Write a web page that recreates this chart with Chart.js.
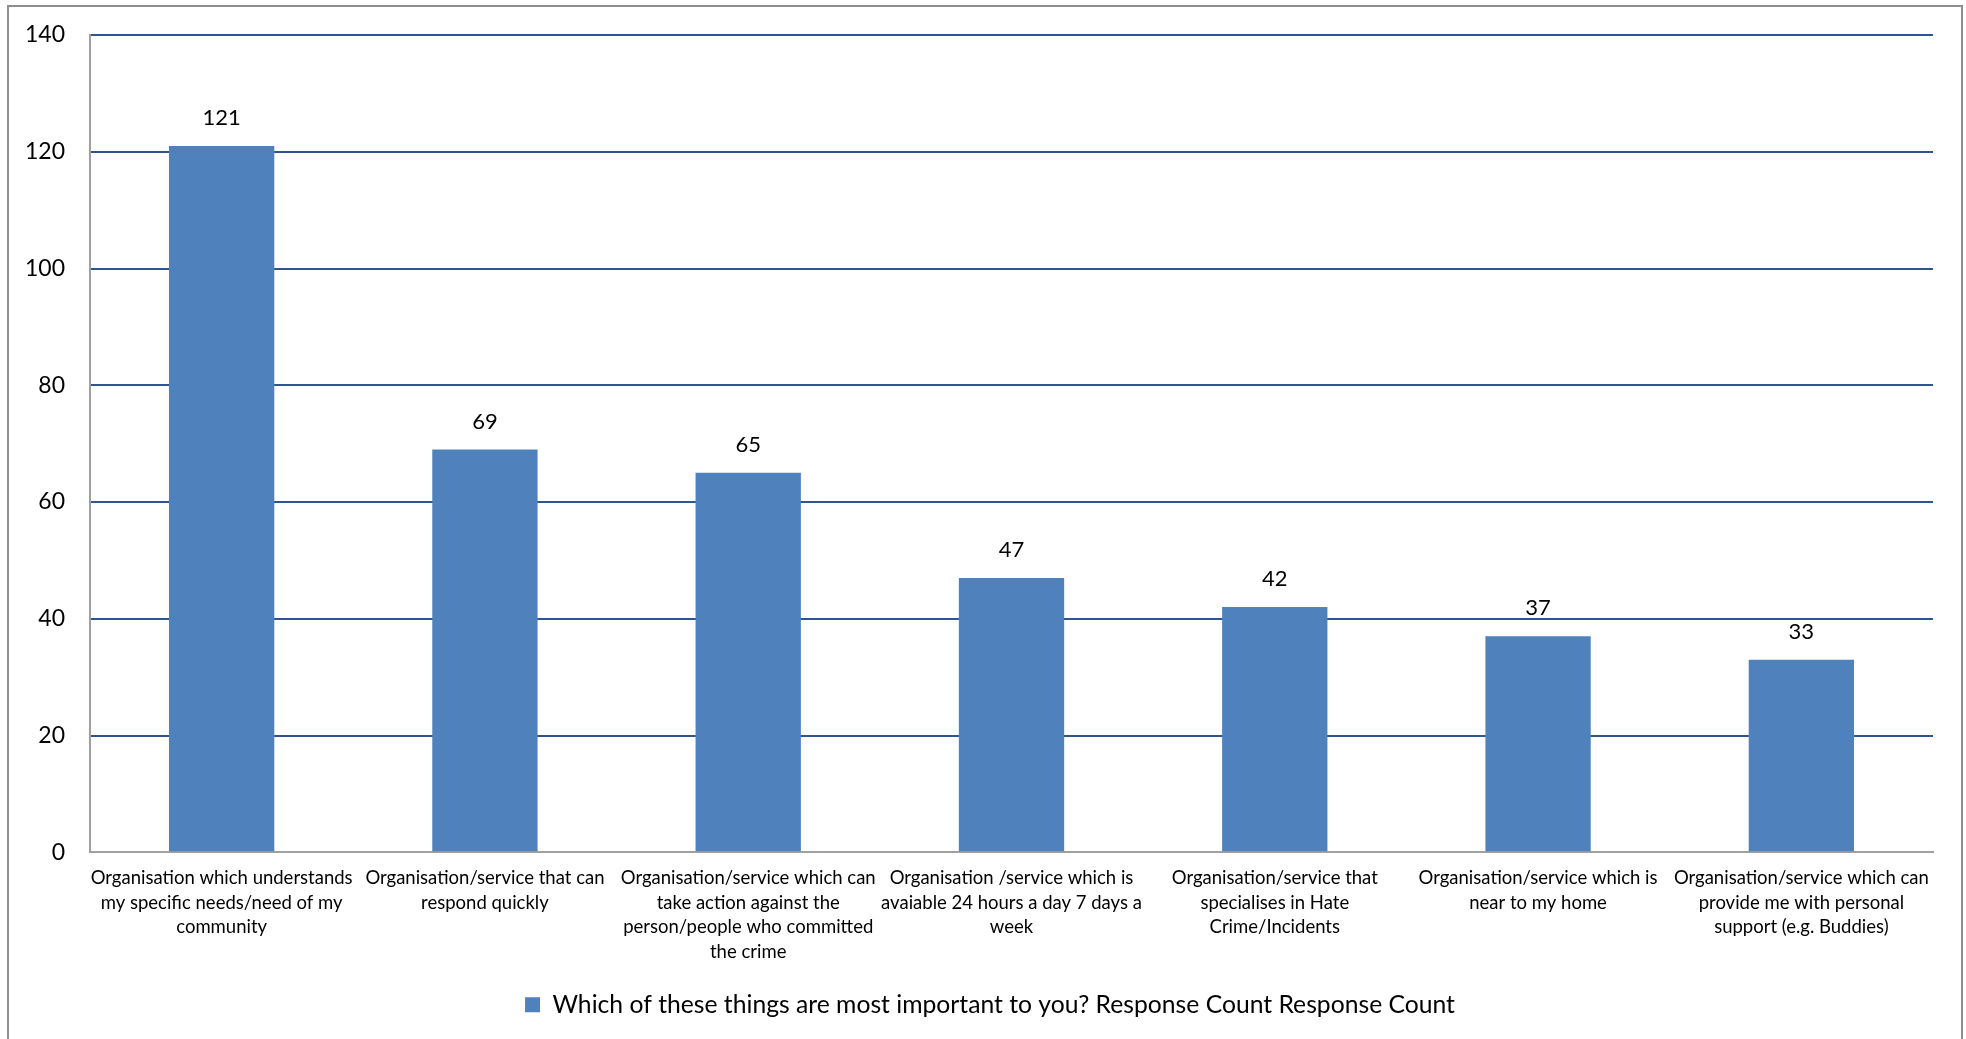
<!DOCTYPE html>
<html>
<head>
<meta charset="utf-8">
<script src="https://cdn.jsdelivr.net/npm/chart.js@4/dist/chart.umd.min.js"></script>
<style>
  html, body { margin: 0; padding: 0; background: #fff; overflow: hidden; }
  #wrap { position: relative; width: 1966px; height: 1039px; }
  #frame { position: absolute; left: 7px; top: 5px; width: 1956px; height: 1100px; border: 2px solid #8e8e8e; box-sizing: border-box; pointer-events: none; }
  canvas { position: absolute; left: 0; top: 0; }
</style>
</head>
<body>
<div id="wrap">
  <canvas id="c" width="1966" height="1039"></canvas>
  <div id="frame"></div>
</div>
<script>
const categories = [
  ["Organisation which understands", "my specific needs/need of my", "community"],
  ["Organisation/service that can", "respond quickly"],
  ["Organisation/service which can", "take action against the", "person/people who committed", "the crime"],
  ["Organisation /service which is", "avaiable 24 hours a day 7 days a", "week"],
  ["Organisation/service that", "specialises in Hate", "Crime/Incidents"],
  ["Organisation/service which is", "near to my home"],
  ["Organisation/service which can", "provide me with personal", "support (e.g. Buddies)"]
];
const responseCounts = [121, 69, 65, 47, 42, 37, 33];
const seriesName = "Which of these things are most important to you? Response Count Response Count";
const yTicks = [0, 20, 40, 60, 80, 100, 120, 140];

const FONT = "'Lato', sans-serif";

const valueLabels = {
  id: 'valueLabels',
  afterDatasetsDraw(chart) {
    const ctx = chart.ctx;
    const meta = chart.getDatasetMeta(0);
    ctx.save();
    ctx.font = "22px " + FONT;
    ctx.fillStyle = "#000";
    ctx.textAlign = "center";
    ctx.textBaseline = "middle";
    meta.data.forEach((bar, i) => {
      ctx.fillText(String(responseCounts[i]), bar.x, bar.y - 28);
    });
    ctx.restore();
  }
};

new Chart(document.getElementById('c'), {
  type: 'bar',
  data: {
    labels: categories,
    datasets: [{
      label: seriesName,
      data: responseCounts,
      backgroundColor: '#4F81BD',
      borderWidth: 0,
      barPercentage: 0.4,
      categoryPercentage: 1.0
    }]
  },
  options: {
    responsive: false,
    animation: false,
    devicePixelRatio: 1,
    layout: { padding: { left: 14, top: 35, right: 0, bottom: 12 } },
    plugins: {
      tooltip: { enabled: false },
      legend: {
        position: 'bottom',
        labels: {
          font: { family: FONT, size: 24.7 },
          color: '#000',
          boxWidth: 15,
          boxHeight: 15,
          padding: 10
        }
      }
    },
    scales: {
      x: {
        grid: { display: false, drawTicks: false },
        border: { display: true, color: '#a0a0a0', width: 2 },
        ticks: {
          font: { family: FONT, size: 18.5, lineHeight: 1.32 },
          color: '#000',
          padding: 14,
          maxRotation: 0,
          autoSkip: false
        },
        afterFit(scale) { scale.height = 130; }
      },
      y: {
        min: 0,
        max: 140,
        afterBuildTicks(scale) { scale.ticks = yTicks.map(v => ({ value: v })); },
        grid: {
          drawTicks: false,
          lineWidth: 2,
          color: (c) => (c.tick && c.tick.value === 0) ? '#a0a0a0' : '#2f5591'
        },
        border: { display: true, color: '#a0a0a0', width: 2 },
        ticks: {
          font: { family: FONT, size: 23 },
          color: '#000',
          padding: 25
        },
        afterFit(scale) {
          scale.width = 76;
          scale.paddingTop = 0;
          scale.paddingBottom = 0;
        }
      },
      yRightGap: {
        position: 'right',
        display: true,
        grid: { display: false, drawTicks: false },
        border: { display: false },
        ticks: { display: false },
        afterFit(scale) {
          scale.width = 33;
          scale.paddingTop = 0;
          scale.paddingBottom = 0;
        }
      }
    }
  },
  plugins: [valueLabels]
});
</script>
</body>
</html>
